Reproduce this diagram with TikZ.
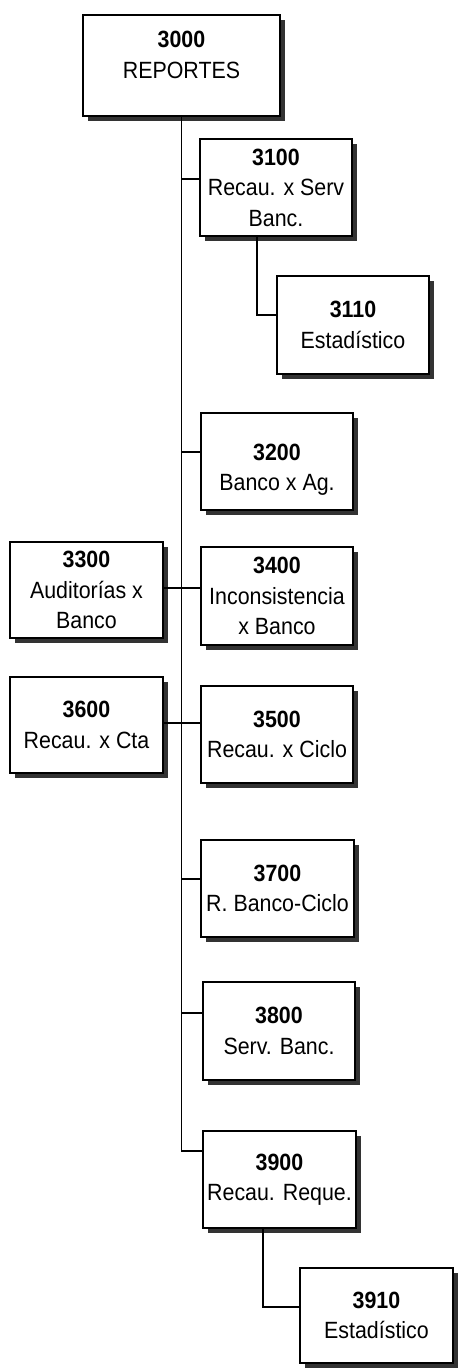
\documentclass[tikz,border=0pt]{standalone}
\usepackage{fontspec}
\setmainfont[FakeStretch=0.91]{Liberation Sans}
\tikzset{
  bx/.style={draw=black, fill=white, line width=1.5pt, inner sep=0pt, outer sep=0pt},
  txt/.style={align=center, inner sep=0pt, font={\fontsize{23.5}{30.5}\selectfont}},
  shadowc/.style={fill=black!80},
  conn/.style={draw=black, line width=1.4pt}
}
\newcommand\ubox[7]{%
  \fill[shadowc] (#2+5,#3+5) rectangle (#4+5,#5+5);
  \node[bx, anchor=north west, minimum width=#4pt-#2pt, minimum height=#5pt-#3pt] (#1) at (#2,#3) {};
  \node[txt] (#1t) at ([yshift=#6pt]#1.center) {#7};
}
\begin{document}
\begin{tikzpicture}[x=1pt, y=-1pt]
\useasboundingbox (0,0) rectangle (459,1370);
% boxes
\ubox{n3000}{83}{15}{280}{116}{10.5}{\textbf{3000}\\REPORTES}
\ubox{n3100}{200}{139}{352}{236}{0}{\textbf{3100}\\Recau. x Serv\\Banc.}
\ubox{n3110}{277}{276}{429}{374}{0}{\textbf{3110}\\Estadístico}
\ubox{n3200}{201}{413}{353}{510}{-8}{\textbf{3200}\\Banco x Ag.}
\ubox{n3300}{10}{542}{163}{638}{0}{\textbf{3300}\\Auditorías x\\Banco}
\ubox{n3400}{201}{547}{353}{645}{0}{\textbf{3400}\\Inconsistencia\\x Banco}
\ubox{n3600}{10}{677}{163}{773}{0}{\textbf{3600}\\Recau. x Cta}
\ubox{n3500}{201}{686}{353}{783}{0}{\textbf{3500}\\Recau. x Ciclo}
\ubox{n3700}{201}{840}{354}{937}{0}{\textbf{3700}\\R. Banco-Ciclo}
\ubox{n3800}{203}{982}{355}{1080}{0}{\textbf{3800}\\Serv. Banc.}
\ubox{n3900}{203}{1131}{356}{1228}{0}{\textbf{3900}\\Recau. Reque.}
\ubox{n3910}{300}{1268}{453}{1363}{0}{\textbf{3910}\\Estadístico}
% connection points
\coordinate (a3100) at ([yshift=-40pt]n3100.north west);
\coordinate (a3110) at ([yshift=-39pt]n3110.north west);
\coordinate (a3200) at ([yshift=-39pt]n3200.north west);
\coordinate (a3400) at ([yshift=-41pt]n3400.north west);
\coordinate (a3500) at ([yshift=-37pt]n3500.north west);
\coordinate (a3700) at ([yshift=-39pt]n3700.north west);
\coordinate (a3800) at ([yshift=-31pt]n3800.north west);
\coordinate (a3900) at ([yshift=-20pt]n3900.north west);
\coordinate (a3910) at ([yshift=-39pt]n3910.north west);
% connectors
\draw[conn] (n3000.south) |- (a3900);
\draw[conn] (a3100 -| n3000.south) -- (a3100);
\draw[conn] ([xshift=57pt]n3100.south west) |- (a3110);
\draw[conn] (a3200 -| n3000.south) -- (a3200);
\draw[conn] (n3300.east |- a3400) -- (a3400);
\draw[conn] (n3600.east |- a3500) -- (a3500);
\draw[conn] (a3700 -| n3000.south) -- (a3700);
\draw[conn] (a3800 -| n3000.south) -- (a3800);
\draw[conn] ([xshift=60pt]n3900.south west) |- (a3910);
\end{tikzpicture}
\end{document}
